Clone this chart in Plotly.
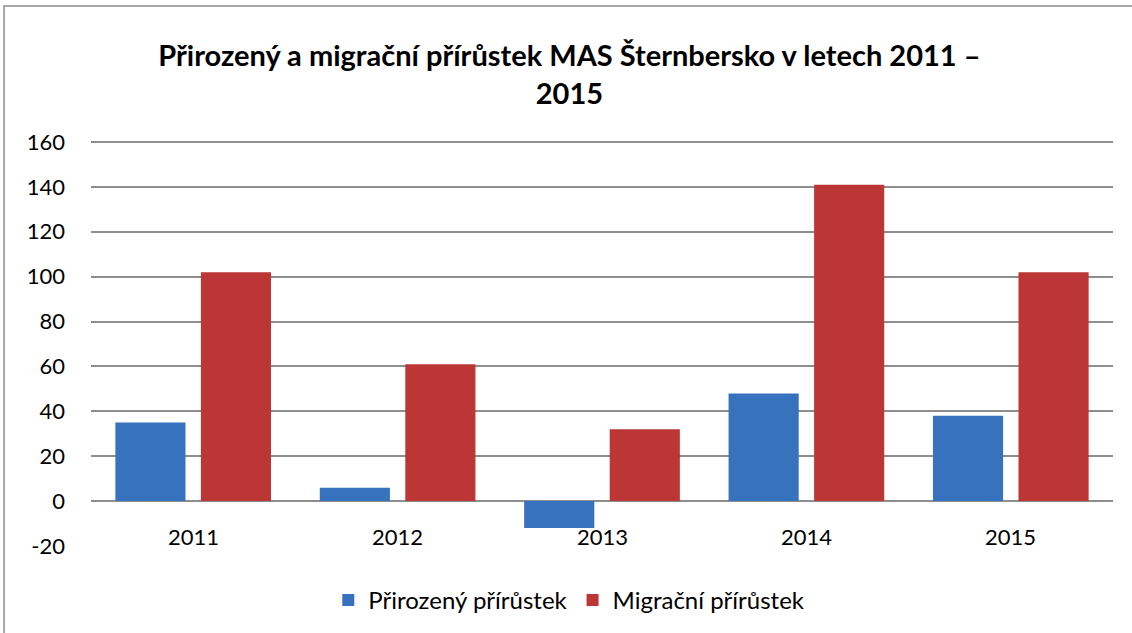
import plotly.graph_objects as go

years = ["2011", "2012", "2013", "2014", "2015"]
prirozeny = [35, 6, -12, 48, 38]
migracni = [102, 61, 32, 141, 102]
series_names = ["Přirozený přírůstek", "Migrační přírůstek"]
title_text = "Přirozený a migrační přírůstek MAS Šternbersko v letech 2011 –<br>2015"
y_ticks = [-20, 0, 20, 40, 60, 80, 100, 120, 140, 160]
y_ticktext = ["-20", "0", "20", "40", "60", "80", "100", "120", "140", "160"]

FONT = "Lato"
fig = go.Figure()
fig.add_trace(go.Bar(x=years, y=prirozeny, name=series_names[0],
                     marker=dict(color="#3672bd", line=dict(width=0))))
fig.add_trace(go.Bar(x=years, y=migracni, name=series_names[1],
                     marker=dict(color="#bc3636", line=dict(width=0))))

for i, yr in enumerate(years):
    fig.add_annotation(x=i, y=0, xref="x", yref="y", text=yr, showarrow=False,
                       yanchor="top", yshift=-20, font=dict(family=FONT, size=22, color="#000"))

# chart-area border (partly outside the page, as in the reference)
fig.add_shape(type="rect", xref="paper", yref="paper", x0=-0.0851, x1=1.2, y0=-0.5, y1=1.33,
              line=dict(color="#8c8c8c", width=1.5), fillcolor="rgba(0,0,0,0)", layer="below")

fig.update_layout(
    width=1132, height=633,
    margin=dict(l=91, r=19, t=140, b=87, autoexpand=False),
    paper_bgcolor="white", plot_bgcolor="white",
    barmode="group", bargap=0.163, bargroupgap=0.18,
    title=dict(text=title_text, x=0.503, xref="container", xanchor="center",
               y=0.8955, yref="container", yanchor="middle",
               font=dict(family=FONT, size=29, color="#000", weight="bold")),
    font=dict(family=FONT, size=22, color="#000"),
    xaxis=dict(type="category", range=[-0.5, 4.5], showticklabels=False, showgrid=False,
               showline=False, zeroline=False, ticks=""),
    yaxis=dict(range=[-20, 160.9], tickvals=y_ticks, ticktext=y_ticktext, showgrid=True,
               gridcolor="#8e8e8e", gridwidth=1.5,
               zeroline=True, zerolinecolor="#8e8e8e", zerolinewidth=1.5, showline=False,
               ticks="", ticklabelstandoff=25, tickfont=dict(family=FONT, size=22)),
    legend=dict(orientation="h", x=0.468, xanchor="center", y=-0.134, yanchor="middle",
                font=dict(family=FONT, size=24), itemwidth=30, traceorder="normal"),
    showlegend=True,
)

fig.write_html("out.html", config={"displayModeBar": False},
               post_script="document.body.style.margin='0';")
